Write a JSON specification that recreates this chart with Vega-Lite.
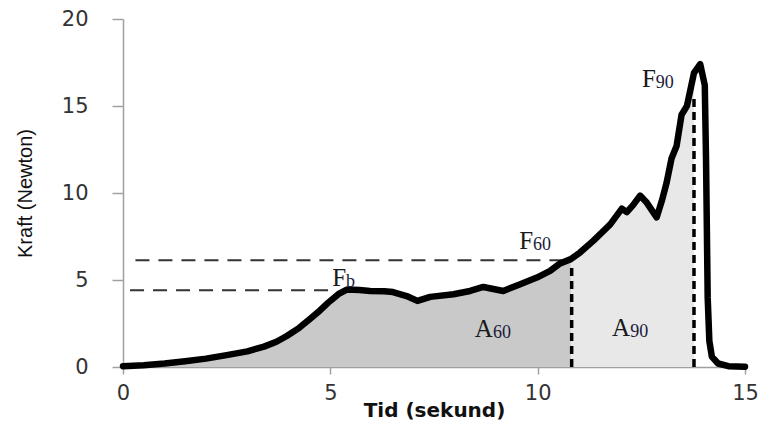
{
  "$schema": "https://vega.github.io/schema/vega-lite/v6.json",
  "width": 622,
  "height": 348,
  "autosize": {"type": "none"},
  "padding": {"left": 123, "top": 19, "right": 19, "bottom": 56},
  "background": "white",
  "config": {
    "view": {"stroke": null},
    "axis": {
      "grid": false,
      "domainColor": "#a0a0a0",
      "domainWidth": 1.5,
      "tickColor": "#a0a0a0",
      "tickWidth": 1.5,
      "labelFont": "DejaVu Sans",
      "labelFontSize": 21,
      "labelColor": "#333333",
      "labelFlush": false
    }
  },
  "datasets": {
    "curve": [
      {"t": 0, "f": 0.05}, {"t": 0.5, "f": 0.1}, {"t": 1.0, "f": 0.2}, {"t": 1.5, "f": 0.33},
      {"t": 2.0, "f": 0.48}, {"t": 2.5, "f": 0.68}, {"t": 3.0, "f": 0.9}, {"t": 3.4, "f": 1.17},
      {"t": 3.7, "f": 1.45}, {"t": 3.95, "f": 1.78}, {"t": 4.25, "f": 2.25}, {"t": 4.5, "f": 2.74},
      {"t": 4.75, "f": 3.25}, {"t": 4.95, "f": 3.7}, {"t": 5.2, "f": 4.2}, {"t": 5.4, "f": 4.45},
      {"t": 5.7, "f": 4.42}, {"t": 5.96, "f": 4.37}, {"t": 6.3, "f": 4.35}, {"t": 6.51, "f": 4.31},
      {"t": 6.84, "f": 4.08}, {"t": 7.1, "f": 3.8}, {"t": 7.41, "f": 4.03}, {"t": 7.97, "f": 4.18},
      {"t": 8.37, "f": 4.37}, {"t": 8.69, "f": 4.6}, {"t": 9.17, "f": 4.37}, {"t": 9.58, "f": 4.76},
      {"t": 9.98, "f": 5.14}, {"t": 10.3, "f": 5.52}, {"t": 10.54, "f": 5.95}, {"t": 10.8, "f": 6.2},
      {"t": 11.02, "f": 6.58}, {"t": 11.34, "f": 7.25}, {"t": 11.75, "f": 8.2}, {"t": 12.03, "f": 9.1},
      {"t": 12.15, "f": 8.9}, {"t": 12.3, "f": 9.3}, {"t": 12.47, "f": 9.85}, {"t": 12.63, "f": 9.45},
      {"t": 12.87, "f": 8.6}, {"t": 13.0, "f": 9.6}, {"t": 13.11, "f": 10.6}, {"t": 13.23, "f": 12.0},
      {"t": 13.35, "f": 12.7}, {"t": 13.47, "f": 14.5}, {"t": 13.6, "f": 15.0}, {"t": 13.77, "f": 16.9},
      {"t": 13.92, "f": 17.4}, {"t": 14.03, "f": 16.2}, {"t": 14.06, "f": 12.0}, {"t": 14.08, "f": 8.0},
      {"t": 14.1, "f": 4.0}, {"t": 14.14, "f": 1.5}, {"t": 14.2, "f": 0.6}, {"t": 14.35, "f": 0.2},
      {"t": 14.6, "f": 0.05}, {"t": 15.0, "f": 0.02}
    ],
    "hlines": [
      {"t": 0.3, "t2": 10.8, "f": 6.13},
      {"t": 0.17, "t2": 5.1, "f": 4.41}
    ],
    "vlines": [
      {"t": 10.82, "f": 0, "f2": 5.9},
      {"t": 13.77, "f": 0, "f2": 15.6}
    ],
    "labels": [
      {"main": "F", "sub": "b", "t": 5.38, "f": 4.64},
      {"main": "F", "sub": "60", "t": 9.89, "f": 6.77},
      {"main": "F", "sub": "90", "t": 12.85, "f": 16.08},
      {"main": "A", "sub": "60", "t": 8.92, "f": 1.71},
      {"main": "A", "sub": "90", "t": 12.23, "f": 1.77}
    ]
  },
  "encoding": {
    "x": {
      "field": "t",
      "type": "quantitative",
      "scale": {"domain": [0, 15], "nice": false, "zero": false},
      "axis": {
        "values": [0, 5, 10, 15],
        "tickSize": 7,
        "labelPadding": 8,
        "title": "Tid (sekund)",
        "titleFont": "DejaVu Sans",
        "titleFontWeight": "bold",
        "titleFontSize": 20,
        "titleColor": "#111111",
        "titlePadding": -3
      }
    },
    "y": {
      "field": "f",
      "type": "quantitative",
      "scale": {"domain": [0, 20], "nice": false},
      "axis": {
        "values": [0, 5, 10, 15, 20],
        "tickSize": 11,
        "labelPadding": 24,
        "title": "Kraft (Newton)",
        "titleFont": "Liberation Sans Narrow, Liberation Sans",
        "titleFontWeight": "normal",
        "titleFontSize": 20,
        "titleColor": "#111111",
        "titleX": -98,
        "titleY": 174,
        "titleAngle": -90,
        "titleAlign": "center",
        "titleBaseline": "middle"
      }
    }
  },
  "layer": [
    {
      "data": {"name": "curve"},
      "transform": [{"filter": "datum.t <= 10.8"}],
      "mark": {"type": "area", "color": "#c9c9c9", "opacity": 1}
    },
    {
      "data": {"name": "curve"},
      "transform": [{"filter": "datum.t >= 10.8 && datum.t <= 13.77"}],
      "mark": {"type": "area", "color": "#e8e8e8", "opacity": 1}
    },
    {
      "data": {"name": "hlines"},
      "mark": {"type": "rule", "color": "#333333", "strokeWidth": 2, "strokeDash": [14, 9]},
      "encoding": {"x2": {"field": "t2"}}
    },
    {
      "data": {"name": "vlines"},
      "mark": {"type": "rule", "color": "#000000", "strokeWidth": 3.5, "strokeDash": [8, 5]},
      "encoding": {"y2": {"field": "f2"}}
    },
    {
      "data": {"name": "curve"},
      "mark": {"type": "line", "color": "#000000", "strokeWidth": 6.5, "strokeJoin": "round", "strokeCap": "round"}
    },
    {
      "data": {"name": "labels"},
      "mark": {"type": "text", "font": "Liberation Serif", "fontSize": 25, "align": "right", "baseline": "alphabetic", "color": "#1a1a1a"},
      "encoding": {"text": {"field": "main"}}
    },
    {
      "data": {"name": "labels"},
      "mark": {"type": "text", "font": "Liberation Serif", "fontSize": 18, "align": "left", "baseline": "alphabetic", "color": "#1a1a3a", "dy": 1},
      "encoding": {"text": {"field": "sub"}}
    }
  ]
}
